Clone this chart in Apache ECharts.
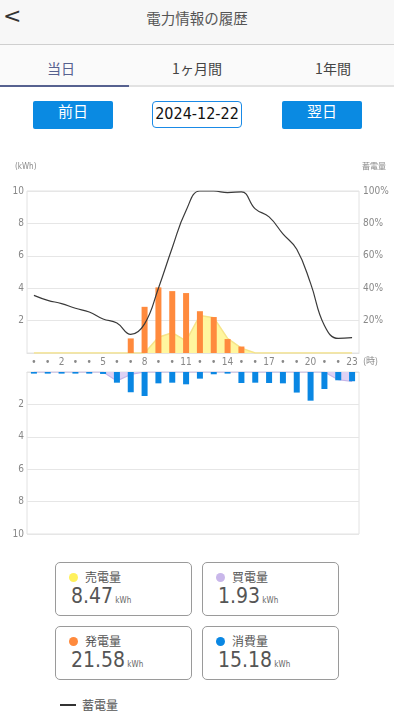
<!DOCTYPE html>
<html>
<head>
<meta charset="utf-8">
<script src="https://cdn.jsdelivr.net/npm/echarts@6/dist/echarts.min.js"></script>
<style>
html,body{margin:0;padding:0;width:394px;height:727px;background:#fff;overflow:hidden;font-family:"Noto Sans CJK JP","Noto Sans",sans-serif;}
.abs{position:absolute;}
#header{left:0;top:0;width:394px;height:44px;background:#f7f7f7;border-bottom:1px solid #cfcfcf;}
#title{left:0;top:0;width:394px;height:35px;line-height:35px;text-align:center;font-size:14.5px;color:#555;}
#back{left:3px;top:3px;font-size:22px;color:#333;font-family:"DejaVu Sans",sans-serif;}
#tabs{left:0;top:45px;width:394px;height:41px;background:#fafafa;}
.tab{top:45px;height:40px;line-height:47px;text-align:center;font-size:14px;color:#444;}
#ul1{left:0;top:85px;width:129px;height:2px;background:#56618f;}
#ul2{left:129px;top:85px;width:265px;height:2px;background:#e2e2e2;}
.btn{top:101px;height:28px;width:80px;background:#0a8ae2;color:#fff;font-size:15px;text-align:center;line-height:20px;border-radius:2px;}
#date{left:152px;top:101px;width:88px;height:25px;border:1.5px solid #1a8ae6;border-radius:4px;text-align:center;line-height:23px;font-size:16px;color:#111;font-family:"Liberation Sans Narrow","DejaVu Sans Condensed","Roboto",sans-serif;}
#chart{left:0;top:140px;width:394px;height:410px;}
.box{width:135px;height:52px;border:1px solid #9a9a9a;border-radius:5px;}
.dot{width:9px;height:9px;border-radius:50%;}
.lab{font-size:12px;color:#555;}
.val{font-size:21px;font-weight:500;color:#555;font-family:"Liberation Sans Narrow","DejaVu Sans Condensed","Roboto",sans-serif;}
.unit{font-size:8px;font-weight:400;color:#666;}
</style>
</head>
<body>
<div id="header" class="abs"></div>
<div id="back" class="abs">&lt;</div>
<div id="title" class="abs">電力情報の履歴</div>
<div id="tabs" class="abs"></div>
<div class="abs tab" style="left:0;width:122px;color:#56618f;">当日</div>
<div class="abs tab" style="left:136px;width:122px;">1ヶ月間</div>
<div class="abs tab" style="left:272px;width:122px;">1年間</div>
<div id="ul1" class="abs"></div>
<div id="ul2" class="abs"></div>
<div class="abs btn" style="left:33px;">前日</div>
<div id="date" class="abs">2024-12-22</div>
<div class="abs btn" style="left:282px;">翌日</div>
<div id="chart" class="abs"></div>

<div class="abs box" style="left:55px;top:562px;"></div>
<div class="abs box" style="left:202px;top:562px;"></div>
<div class="abs box" style="left:55px;top:626px;"></div>
<div class="abs box" style="left:202px;top:626px;"></div>

<div class="abs dot" style="left:69px;top:573px;background:#fff15c;"></div>
<div class="abs lab" style="left:85px;top:568px;">売電量</div>
<div class="abs val" style="left:71px;top:584px;">8.47<span class="unit"> kWh</span></div>

<div class="abs dot" style="left:216px;top:573px;background:#c9b7ea;"></div>
<div class="abs lab" style="left:232px;top:568px;">買電量</div>
<div class="abs val" style="left:218px;top:584px;">1.93<span class="unit"> kWh</span></div>

<div class="abs dot" style="left:69px;top:637px;background:#ff8a3d;"></div>
<div class="abs lab" style="left:85px;top:632px;">発電量</div>
<div class="abs val" style="left:71px;top:648px;">21.58<span class="unit"> kWh</span></div>

<div class="abs dot" style="left:216px;top:637px;background:#0a87e3;"></div>
<div class="abs lab" style="left:232px;top:632px;">消費量</div>
<div class="abs val" style="left:218px;top:648px;">15.18<span class="unit"> kWh</span></div>

<div class="abs" style="left:60px;top:704px;width:16px;height:1.5px;background:#333;"></div>
<div class="abs lab" style="left:82px;top:696px;">蓄電量</div>

<script>
var hours = ['0','1','2','3','4','5','6','7','8','9','10','11','12','13','14','15','16','17','18','19','20','21','22','23'];
var tickLabels = ['•','•','2','•','•','5','•','•','8','•','•','11','•','•','14','•','•','17','•','•','20','•','•','23'];
var generation = [0,0,0,0,0,0,0,0.9,2.85,4.05,3.82,3.7,2.58,2.22,0.86,0.4,0,0,0,0,0,0,0,0];
var sold = [0,0,0,0,0,0,0,0,0,0.97,1.25,0.75,2.32,2.18,0.9,0.3,0,0,0,0,0,0,0,0];
var bought = [0,0,0,0,0,0,0.55,0.15,0,0,0,0,0,0,0,0,0,0,0,0,0,0,0.48,0.58];
var consumption = [0.1,0.1,0.1,0.1,0.1,0.12,0.66,1.25,1.48,0.7,0.66,0.76,0.41,0.14,0.1,0.68,0.66,0.68,0.7,1.27,1.77,1.05,0.51,0.57];
var battery = [35.6,32.5,30.5,27.6,25.3,21,18.5,11.5,18,40,65,88,100,100,99,99.5,89,84,73.5,64,43,17,9,9.5];

var numFont = '"Liberation Sans Narrow","DejaVu Sans Condensed","Roboto",sans-serif';
var labStyle = {color:'#888', fontSize:10, fontFamily:numFont};
var chart = echarts.init(document.getElementById('chart'), null, {renderer:'canvas'});
chart.setOption({
  animation:false,
  grid:[
    {left:27, right:35, top:51, height:162, show:true, borderColor:'#e2e2e2', borderWidth:1, outerBoundsMode:'none'},
    {left:27, right:35, top:232, height:162, show:true, borderColor:'#e2e2e2', borderWidth:1, outerBoundsMode:'none'}
  ],
  graphic:[
    {type:'text', left:15, top:23, style:{text:'(kWh)', fill:'#888', font:'8px '+numFont}},
    {type:'text', left:362, top:22, style:{text:'蓄電量', fill:'#888', font:'8px "Noto Sans CJK JP"'}},
    {type:'text', left:363, top:216, style:{text:'(時)', fill:'#888', font:'9px "Noto Sans CJK JP"'}}
  ],
  xAxis:[
    {type:'category', gridIndex:0, data:hours, boundaryGap:true,
     axisLine:{lineStyle:{color:'#e2e2e2'}}, axisTick:{show:false},
     axisLabel:Object.assign({interval:0, margin:4, formatter:function(v,i){return tickLabels[i];}}, labStyle),
     splitLine:{show:false}},
    {type:'category', gridIndex:1, data:hours, boundaryGap:true,
     axisLine:{lineStyle:{color:'#e2e2e2'}}, axisTick:{show:false}, axisLabel:{show:false}, splitLine:{show:false}}
  ],
  yAxis:[
    {type:'value', gridIndex:0, min:0, max:10, interval:2,
     axisLine:{show:false}, axisTick:{show:false},
     axisLabel:Object.assign({margin:3, formatter:function(v){return v===0?'':v;}}, labStyle),
     splitLine:{lineStyle:{color:'#e6e6e6'}}},
    {type:'value', gridIndex:0, min:0, max:100, interval:20, position:'right',
     axisLine:{show:false}, axisTick:{show:false},
     axisLabel:Object.assign({margin:4, formatter:function(v){return v===0?'':v+'%';}}, labStyle),
     splitLine:{show:false}},
    {type:'value', gridIndex:1, min:0, max:10, interval:2, inverse:true,
     axisLine:{show:false}, axisTick:{show:false},
     axisLabel:Object.assign({margin:3, formatter:function(v){return v===0?'':v;}}, labStyle),
     splitLine:{lineStyle:{color:'#e6e6e6'}}}
  ],
  series:[
    {name:'売電量', type:'line', xAxisIndex:0, yAxisIndex:0, data:sold, symbol:'none', smooth:false,
     lineStyle:{color:'#f6e48a', width:1.5}, areaStyle:{color:'#fff59a', opacity:0.95}, z:1},
    {name:'発電量', type:'bar', xAxisIndex:0, yAxisIndex:0, data:generation, barWidth:6,
     itemStyle:{color:'#ff8a3d'}, z:2},
    {name:'蓄電量', type:'line', xAxisIndex:0, yAxisIndex:1, data:battery, symbol:'none', smooth:0.45,
     lineStyle:{color:'#3a3a3a', width:1.2}, z:3},
    {name:'買電量', type:'line', xAxisIndex:1, yAxisIndex:2, data:bought, symbol:'none', smooth:false,
     lineStyle:{color:'#c6b6e8', width:1.2}, areaStyle:{color:'#dcd0f3', opacity:0.95}, z:1},
    {name:'消費量', type:'bar', xAxisIndex:1, yAxisIndex:2, data:consumption, barWidth:6,
     itemStyle:{color:'#0a87e3'}, z:2}
  ]
});
</script>
</body>
</html>
